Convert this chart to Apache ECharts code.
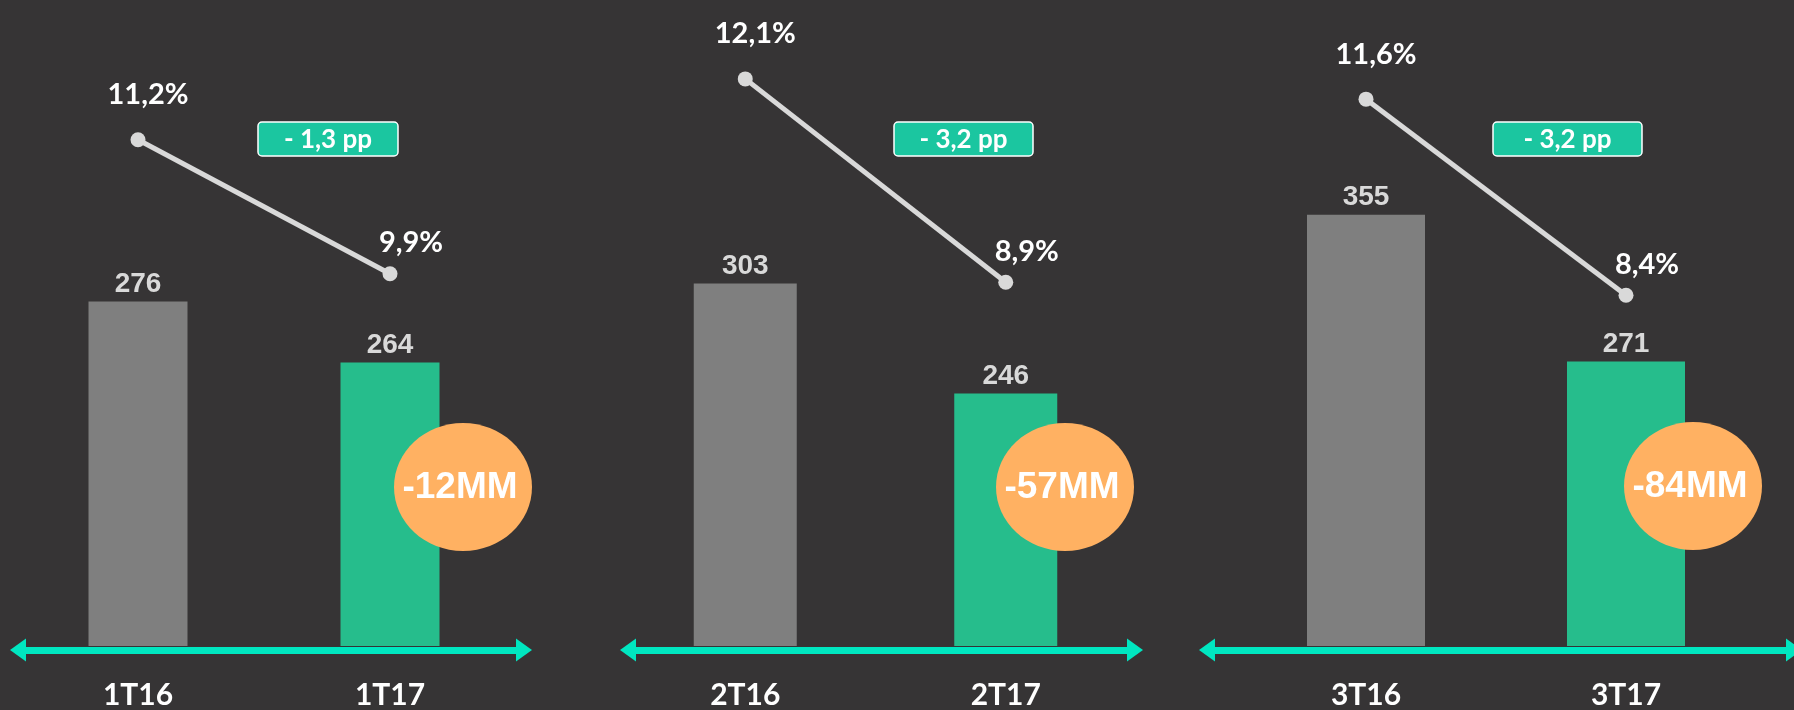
<!DOCTYPE html>
<html>
<head>
<meta charset="utf-8">
<style>
  html, body { margin: 0; padding: 0; background: #363435; }
  #main { width: 1794px; height: 710px; }
</style>
</head>
<body>
<div id="main"></div>
<script src="https://cdn.jsdelivr.net/npm/echarts@6/dist/echarts.min.js"></script>
<script>
  // quarter labels, EBITDA-like values (MM) and margins (%)
  const prevLabels = ['1T16', '2T16', '3T16'];
  const currLabels = ['1T17', '2T17', '3T17'];
  const prevValues = [276, 303, 355];
  const currValues = [264, 246, 271];
  const prevMargin = [11.2, 12.1, 11.6];
  const currMargin = [9.9, 8.9, 8.4];

  // layout of the three panels (pixels)
  const panels = [
    { left: 12, width: 504, arrowLeft: 18, arrowWidth: 506, barW: 99,
      barRange: [208.13, 335.41], pctRange: [6.29, 12.555],
      circle: [463, 487], box: [258, 122, 140, 34] },
    { left: 615, width: 521, arrowLeft: 628, arrowWidth: 507, barW: 103,
      barRange: [114.9, 450.17], pctRange: [3.177, 13.341],
      circle: [1065, 487], box: [894, 122, 139, 34] },
    { left: 1236, width: 520, arrowLeft: 1207, arrowWidth: 591, barW: 118,
      barRange: [108.14, 477.85], pctRange: [2.676, 13.218],
      circle: [1693, 486], box: [1493, 122, 149, 34] },
  ];

  const GRAY = '#7f7f7f';
  const GREEN = '#26bd8c';
  const ARROW = '#00e6c0';
  const ORANGE = '#ffb162';
  const LINE = '#d9d9d9';
  const BOX = '#1bc6a0';

  const fmtPct = (v) => v.toFixed(1).replace('.', ',') + '%';

  var chartDom = document.getElementById('main');
  var myChart = echarts.init(chartDom);
  var option;

  const grid = [], xAxis = [], yAxis = [], series = [], graphic = [];

  panels.forEach((p, i) => {
    grid.push({ left: p.left, width: p.width, top: 0, bottom: 63 });
    grid.push({ left: p.arrowLeft, width: p.arrowWidth, top: 0, bottom: 60 });

    xAxis.push({
      type: 'category',
      gridIndex: 2 * i,
      data: [prevLabels[i], currLabels[i]],
      axisLine: { show: false, onZero: false },
      axisTick: { show: false },
      axisLabel: {
        color: '#ffffff', fontFamily: 'Lato', fontWeight: 'bold',
        fontSize: 30, margin: 34,
      },
    });
    xAxis.push({
      type: 'value',
      gridIndex: 2 * i + 1,
      min: 0,
      max: 1,
      splitLine: { show: false },
      axisTick: { show: false },
      axisLabel: { show: false },
      axisLine: {
        show: true,
        onZero: false,
        symbol: ['triangle', 'triangle'],
        symbolSize: [23, 16],
        lineStyle: { color: ARROW, width: 7 },
      },
    });

    yAxis.push({ type: 'value', gridIndex: 2 * i, min: p.barRange[0], max: p.barRange[1], show: false });
    yAxis.push({ type: 'value', gridIndex: 2 * i, min: p.pctRange[0], max: p.pctRange[1], show: false });
    yAxis.push({ type: 'value', gridIndex: 2 * i + 1, min: 0, max: 1, show: false });

    series.push({
      type: 'bar',
      xAxisIndex: 2 * i,
      yAxisIndex: 3 * i,
      barWidth: p.barW,
      data: [
        { value: prevValues[i], itemStyle: { color: GRAY } },
        { value: currValues[i], itemStyle: { color: GREEN } },
      ],
      label: {
        show: true,
        position: 'top',
        distance: 3,
        color: LINE,
        fontFamily: 'Liberation Sans',
        fontWeight: 'bold',
        fontSize: 28,
      },
      z: 2,
    });

    series.push({
      type: 'line',
      xAxisIndex: 2 * i,
      yAxisIndex: 3 * i + 1,
      symbol: 'circle',
      symbolSize: 15,
      itemStyle: { color: LINE },
      lineStyle: { color: LINE, width: 5 },
      data: [
        { value: prevMargin[i], label: { distance: 23, offset: [10, 0] } },
        { value: currMargin[i], label: { distance: 9, offset: [21, 0] } },
      ],
      label: {
        show: true,
        position: 'top',
        color: '#ffffff',
        fontFamily: 'Lato',
        fontWeight: 'bold',
        fontSize: 29,
        formatter: (d) => fmtPct(d.value),
      },
      z: 5,
    });

    // change badges
    const diffMM = currValues[i] - prevValues[i];
    const diffPP = currMargin[i] - prevMargin[i];
    graphic.push({
      type: 'ellipse',
      shape: { cx: p.circle[0], cy: p.circle[1], rx: 69, ry: 64 },
      style: { fill: ORANGE },
      z: 100,
    });
    graphic.push({
      type: 'text',
      x: p.circle[0] - 3,
      y: p.circle[1] + 1,
      style: {
        text: diffMM + 'MM',
        fill: '#ffffff',
        fontFamily: 'Liberation Sans',
        fontWeight: 'bold',
        fontSize: 37,
        align: 'center',
        verticalAlign: 'middle',
      },
      z: 101,
    });
    graphic.push({
      type: 'rect',
      shape: { x: p.box[0], y: p.box[1], width: p.box[2], height: p.box[3], r: 4 },
      style: { fill: BOX, stroke: '#ffffff', lineWidth: 1.5 },
      z: 100,
    });
    graphic.push({
      type: 'text',
      x: p.box[0] + p.box[2] / 2,
      y: p.box[1] + p.box[3] / 2 + 1,
      style: {
        text: (diffPP < 0 ? '- ' : '+ ') + fmtPct(Math.abs(diffPP)).replace('%', '') + ' pp',
        fill: '#ffffff',
        fontFamily: 'Lato',
        fontWeight: 'bold',
        fontSize: 26,
        align: 'center',
        verticalAlign: 'middle',
      },
      z: 101,
    });
  });

  option = {
    backgroundColor: '#363435',
    animation: false,
    grid: grid,
    xAxis: xAxis,
    yAxis: yAxis,
    series: series,
    graphic: graphic,
  };

  option && myChart.setOption(option);

  window.onresize = function () {
    myChart.resize();
  };
</script>
</body>
</html>
